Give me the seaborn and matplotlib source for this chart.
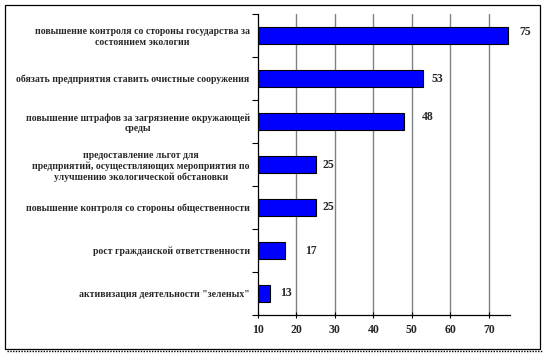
import matplotlib
matplotlib.use("Agg")
import matplotlib.pyplot as plt
import seaborn as sns
import pandas as pd
from matplotlib.patches import Rectangle
from matplotlib.ticker import FixedLocator

categories = [
    "повышение контроля со стороны государства за\nсостоянием экологии",
    "обязать предприятия ставить очистные сооружения",
    "повышение штрафов за загрязнение окружающей\nсреды",
    "предоставление льгот для\nпредприятий, осуществляющих мероприятия по\nулучшению экологической обстановки",
    "повышение контроля со стороны общественности",
    "рост гражданской ответственности",
    "активизация деятельности \"зеленых\"",
]
values = [75, 53, 48, 25, 25, 17, 13]
value_labels = ["75", "53", "48", "25", "25", "17", "13"]
x_ticks = [10, 20, 30, 40, 50, 60, 70]

label_pad = [3.0, 2.0, 4.5, 1.8, 1.8, 5.3, 2.8]
label_dy = [-0.07, 0.0, -0.1, 0.0, 0.0, 0.0, 0.0]

sns.set_theme(style="white")
plt.rcParams['font.family'] = ['Liberation Serif', 'DejaVu Serif']

df = pd.DataFrame({"cat": categories, "val": values})

fig = plt.figure(figsize=(5.46, 3.55), dpi=100)
ax = fig.add_axes([258/546, 1-315/355, (510-258)/546, (315-14)/355])

sns.barplot(data=df, x="val", y="cat", orient="h", color="#0000FF",
            edgecolor="black", linewidth=0.8, width=0.4, saturation=1, ax=ax)

ax.set_xlim(10, 75.5)
ax.set_xticks(x_ticks)
ax.set_xticklabels([str(t) for t in x_ticks], fontsize=8.5, fontweight="bold")
for t in x_ticks[1:]:
    ax.axvline(t, color="#808080", lw=1, zorder=0)
ax.set_xlabel("")
ax.set_ylabel("")
ax.set_ylim(6.5, -0.5)

ax.tick_params(axis="y", which="major", length=0, pad=6)
ax.yaxis.set_minor_locator(FixedLocator([i - 0.5 for i in range(len(categories) + 1)]))
ax.tick_params(axis="y", which="minor", length=4, width=0.8, color="black", direction="out", left=True)
ax.tick_params(axis="x", which="major", length=5, width=0.8, color="black", direction="inout", bottom=True, pad=4)
for lab in ax.get_yticklabels():
    lab.set_fontsize(7.0)
    lab.set_fontweight("bold")
    lab.set_multialignment("center")

for s in ["top", "right"]:
    ax.spines[s].set_visible(False)
for s in ["left", "bottom"]:
    ax.spines[s].set_visible(True)
    ax.spines[s].set_color("black")
    ax.spines[s].set_linewidth(0.9)

for i, (v, lab) in enumerate(zip(values, value_labels)):
    ax.text(v + label_pad[i], i + label_dy[i], lab, va="center", ha="left",
            fontsize=8.5, fontweight="bold", clip_on=False)

fig.patches.append(Rectangle((5/546, 1-349/355), 535/546, 344/355,
                             transform=fig.transFigure, fill=False,
                             edgecolor="black", lw=0.9))
fig.add_artist(plt.Line2D([7/546, 542/546], [1-351/355, 1-351/355],
                          transform=fig.transFigure, color="black",
                          lw=1, linestyle=(0, (1, 1))))

fig.savefig("out.png", dpi=100)
